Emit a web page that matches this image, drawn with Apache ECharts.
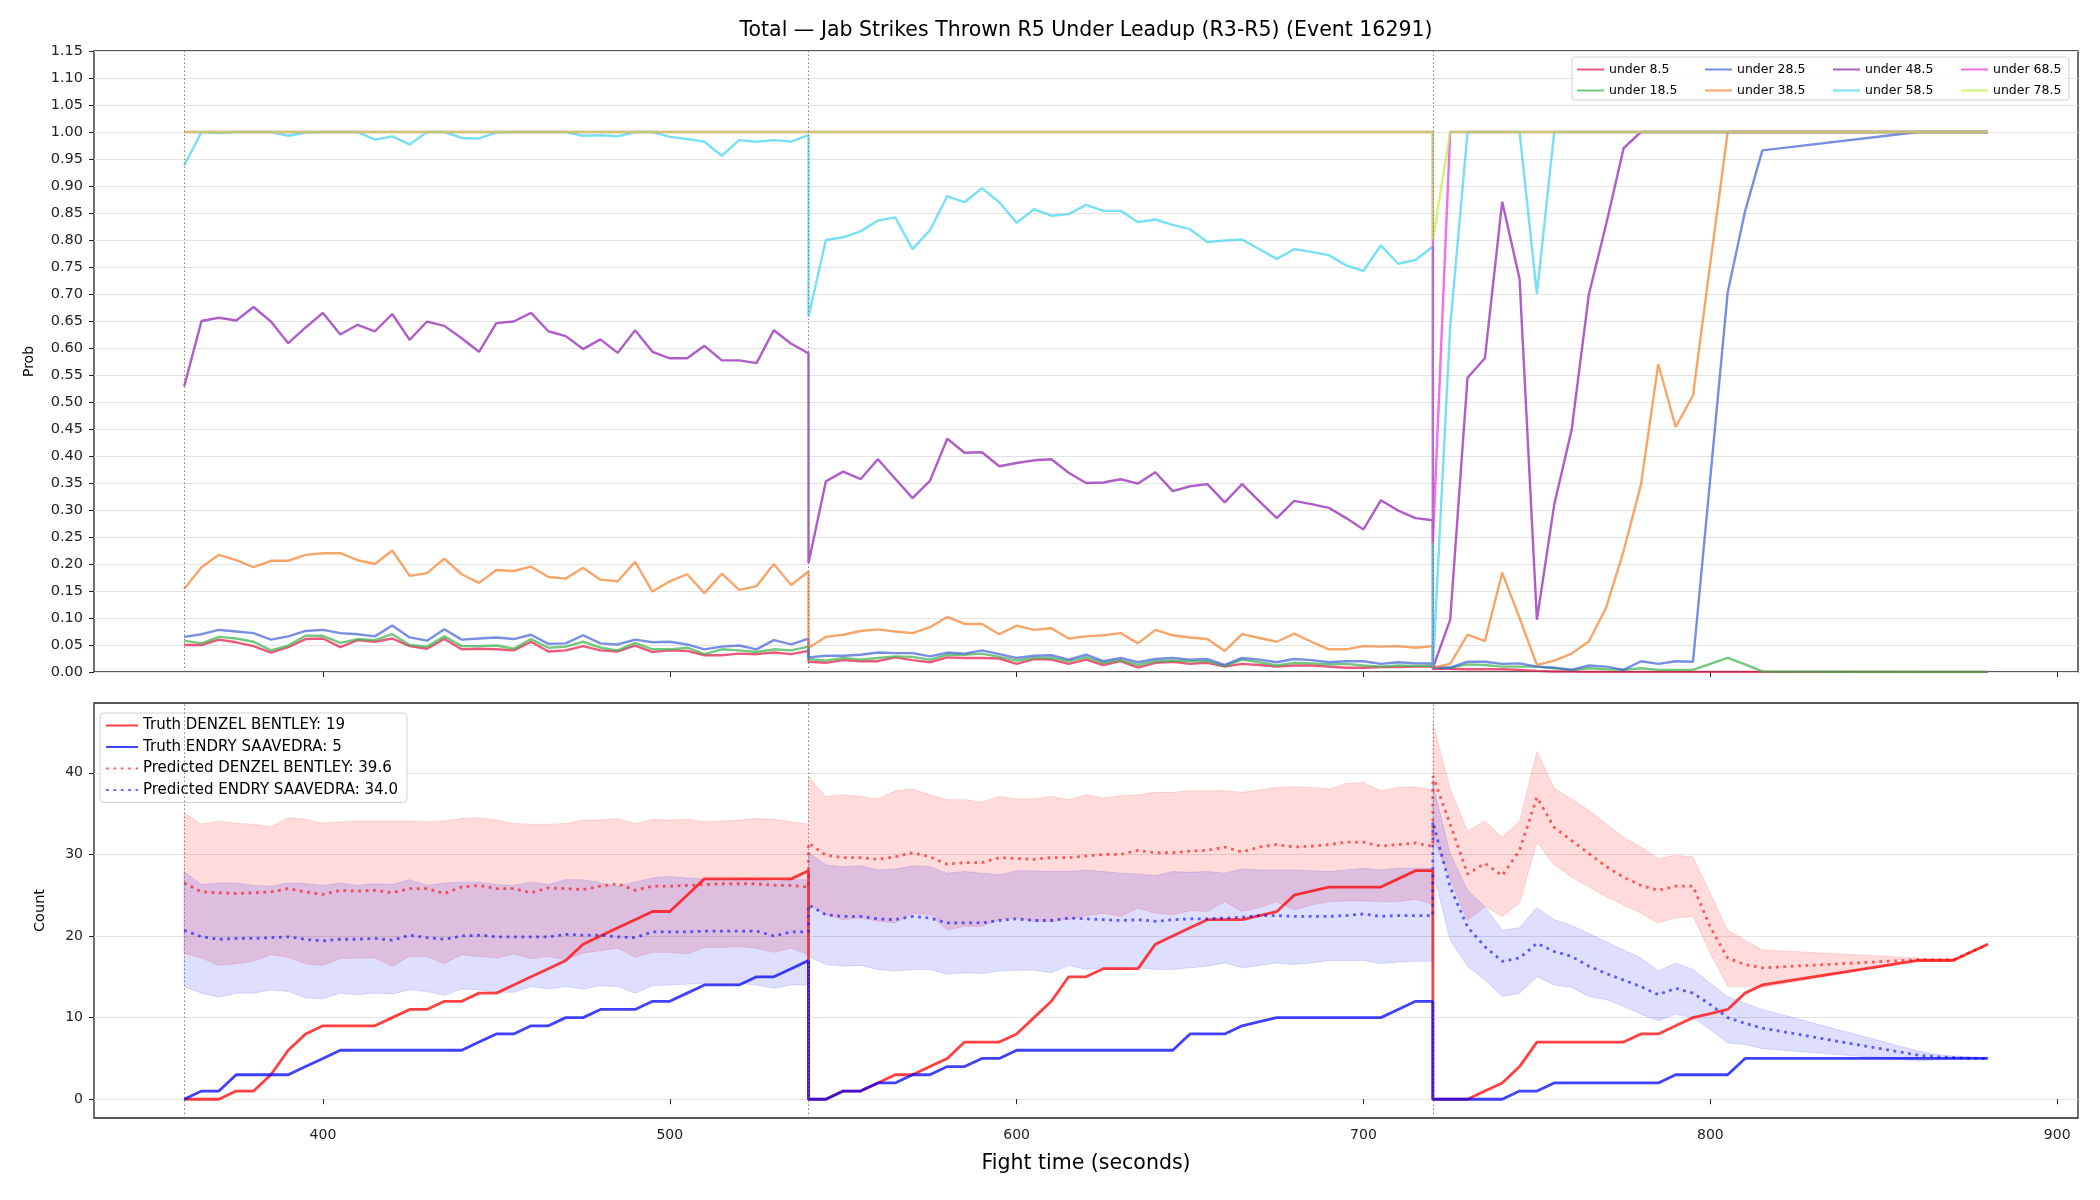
<!DOCTYPE html>
<html>
<head>
<meta charset="utf-8">
<title>Jab Strikes Thrown R5 Under Leadup</title>
<script src="https://cdn.jsdelivr.net/npm/echarts@6/dist/echarts.min.js"></script>
<style>
  html, body { margin: 0; padding: 0; background: #fff; }
  #chart { width: 2100px; height: 1200px; }
</style>
</head>
<body>
<div id="chart"></div>
<script>
// sample times (s): R3, R4, R5 (R5 has a gap 815 -> 860)
const times = [
  360,365,370,375,380,385,390,395,400,405,410,415,420,425,430,435,440,445,450,455,460,465,470,475,480,485,490,495,500,505,510,515,520,525,530,535,540,
  540,545,550,555,560,565,570,575,580,585,590,595,600,605,610,615,620,625,630,635,640,645,650,655,660,665,670,675,680,685,690,695,700,705,710,715,720,
  720,725,730,735,740,745,750,755,760,765,770,775,780,785,790,795,800,805,810,815,860,865,870,875,880
];
const roundStarts = [360, 540, 720];
const roundNames = ['R3', 'R4', 'R5'];
const xTicks = [400, 500, 600, 700, 800, 900];
const countTicks = [0, 10, 20, 30, 40];

// top panel: probability of "under X"
const lineNames = ['under 8.5', 'under 18.5', 'under 28.5', 'under 38.5', 'under 48.5', 'under 58.5', 'under 68.5', 'under 78.5'];
const lineColors = ['#e6194b', '#3cb44b', '#4363d8', '#f58231', '#911eb4', '#42d4f4', '#f032e6', '#bfef45'];

const under8 = [
  .050,.050,.060,.055,.048,.036,.046,.061,.062,.046,.059,.056,.062,.048,.043,.061,.042,.043,.042,.040,.056,.038,.040,.048,.040,.038,.049,.037,.040,.039,.031,.031,.034,.033,.036,.033,.039,
  .019,.017,.022,.020,.020,.027,.022,.018,.027,.026,.026,.025,.015,.024,.023,.015,.023,.013,.020,.008,.017,.019,.015,.017,.010,.015,.013,.010,.012,.012,.010,.008,.008,.009,.009,.010,.010,
  .006,.006,.005,.005,.005,.004,.002,.001,.001,0,0,0,0,0,0,0,0,0,0,0,0,0,0,0,0
];
const under18 = [
  .058,.053,.065,.062,.056,.040,.049,.067,.067,.054,.061,.059,.070,.050,.047,.066,.048,.048,.049,.043,.061,.045,.047,.056,.045,.040,.054,.042,.042,.045,.033,.042,.040,.037,.042,.040,.047,
  .024,.021,.026,.023,.026,.029,.028,.023,.032,.032,.034,.028,.021,.026,.026,.020,.027,.017,.022,.013,.020,.021,.020,.020,.011,.023,.018,.012,.017,.016,.014,.015,.012,.010,.012,.011,.012,
  .008,.008,.014,.013,.010,.010,.010,.007,.004,.007,.005,.004,.007,.004,.004,.004,.015,.026,.014,.001,0,0,0,0,0
];
const under28 = [
  .065,.070,.078,.075,.072,.060,.066,.076,.078,.072,.070,.066,.086,.064,.058,.079,.060,.062,.064,.061,.069,.052,.053,.068,.053,.051,.060,.055,.056,.051,.042,.047,.049,.042,.059,.051,.062,
  .027,.030,.030,.032,.036,.035,.035,.029,.036,.034,.040,.033,.026,.030,.031,.023,.032,.020,.026,.018,.024,.026,.023,.024,.013,.026,.023,.018,.024,.022,.018,.020,.020,.015,.018,.016,.016,
  .008,.008,.019,.019,.015,.016,.010,.008,.004,.012,.010,.004,.020,.015,.020,.019,.360,.703,.853,.966,1,1,1,1,1
];
const under38 = [
  .154,.194,.217,.207,.194,.206,.206,.217,.220,.220,.207,.200,.225,.178,.183,.210,.181,.165,.189,.187,.195,.176,.173,.193,.171,.168,.204,.149,.168,.181,.146,.182,.152,.159,.200,.161,.186,
  .045,.065,.069,.076,.079,.075,.072,.083,.102,.089,.089,.070,.086,.078,.081,.062,.066,.068,.072,.053,.078,.068,.064,.061,.039,.070,.063,.056,.071,.056,.042,.042,.048,.047,.048,.045,.048,
  .008,.015,.069,.057,.184,.100,.013,.021,.034,.057,.120,.224,.347,.570,.454,.512,.757,1,1,1,1,1,1,1,1
];
const under48 = [
  .529,.650,.656,.651,.676,.649,.609,.638,.665,.625,.643,.631,.663,.615,.649,.641,.618,.593,.646,.649,.665,.631,.622,.598,.616,.591,.633,.593,.581,.581,.604,.577,.577,.572,.633,.608,.590,
  .202,.353,.371,.357,.394,.358,.322,.354,.432,.406,.407,.381,.387,.392,.394,.369,.350,.351,.357,.349,.370,.335,.344,.348,.314,.348,.316,.285,.317,.311,.304,.285,.264,.318,.299,.285,.281,
  .007,.097,.545,.581,.871,.728,.097,.310,.448,.700,.830,.970,1,1,1,1,1,1,1,1,1,1,1,1,1
];
const under58 = [
  .938,1,.998,1,1,1,.993,.999,1,1,1,.986,.992,.977,1,1,.989,.988,.999,1,1,1,1,.993,.994,.992,1,1,.991,.987,.982,.956,.985,.982,.985,.982,.994,
  .658,.800,.805,.816,.836,.842,.783,.818,.881,.870,.896,.870,.832,.857,.845,.848,.865,.854,.854,.833,.838,.828,.820,.796,.799,.801,.783,.765,.783,.778,.772,.753,.743,.790,.756,.763,.788,
  .007,.640,1,1,1,1,.700,1,1,1,1,1,1,1,1,1,1,1,1,1,1,1,1,1,1
];
const under68 = [
  1,1,1,1,1,1,1,1,1,1,1,1,1,1,1,1,1,1,1,1,1,1,1,1,1,1,1,1,1,1,1,1,1,1,1,1,1,
  1,1,1,1,1,1,1,1,1,1,1,1,1,1,1,1,1,1,1,1,1,1,1,1,1,1,1,1,1,1,1,1,1,1,1,1,1,
  .240,1,1,1,1,1,1,1,1,1,1,1,1,1,1,1,1,1,1,1,1,1,1,1,1
];
const under78 = [
  1,1,1,1,1,1,1,1,1,1,1,1,1,1,1,1,1,1,1,1,1,1,1,1,1,1,1,1,1,1,1,1,1,1,1,1,1,
  1,1,1,1,1,1,1,1,1,1,1,1,1,1,1,1,1,1,1,1,1,1,1,1,1,1,1,1,1,1,1,1,1,1,1,1,1,
  .800,1,1,1,1,1,1,1,1,1,1,1,1,1,1,1,1,1,1,1,1,1,1,1,1
];

// bottom panel: counts
const truthNames = ['Truth DENZEL BENTLEY: 19', 'Truth ENDRY SAAVEDRA: 5'];
const predNames = ['Predicted DENZEL BENTLEY: 39.6', 'Predicted ENDRY SAAVEDRA: 34.0'];

const truthDenzel = [
  0,0,0,1,1,3,6,8,9,9,9,9,10,11,11,12,12,13,13,14,15,16,17,19,20,21,22,23,23,25,27,27,27,27,27,27,28,
  0,0,1,1,2,3,3,4,5,7,7,7,8,10,12,15,15,16,16,16,19,20,21,22,22,22,22.5,23,25,25.5,26,26,26,26,27,28,28,
  0,0,0,1,2,4,7,7,7,7,7,7,8,8,9,10,10.5,11,13,14,17,17,17,18,19
];
const truthEndry = [
  0,1,1,3,3,3,3,4,5,6,6,6,6,6,6,6,6,7,8,8,9,9,10,10,11,11,11,12,12,13,14,14,14,15,15,16,17,
  0,0,1,1,2,2,3,3,4,4,5,5,6,6,6,6,6,6,6,6,6,6,8,8,8,9,9.5,10,10,10,10,10,10,10,11,12,12,
  0,0,0,0,0,1,1,2,2,2,2,2,2,2,3,3,3,3,5,5,5,5,5,5,5
];
const predDenzel = [
  26.5,25.4,25.3,25.2,25.3,25.4,25.8,25.4,25.1,25.6,25.5,25.6,25.3,25.8,25.8,25.2,26.0,26.2,25.8,25.8,25.3,25.9,25.8,25.7,26.1,26.4,25.6,26.1,26.1,26.2,26.3,26.4,26.4,26.4,26.2,26.2,26.0,
  31.4,29.9,29.6,29.6,29.4,29.7,30.2,29.7,28.8,29.0,29.0,29.6,29.5,29.4,29.6,29.6,29.8,30.0,30.0,30.5,30.2,30.2,30.4,30.5,30.9,30.3,30.9,31.2,30.9,31.0,31.2,31.5,31.5,31.0,31.2,31.4,31.0,
  39.6,33.7,27.6,28.9,27.4,30.5,37.0,33.3,31.7,30.1,28.5,27.2,26.2,25.6,26.1,26.1,21.1,17.3,16.5,16.1,17.1,17.1,17.1,18,19
];
const predEndry = [
  20.7,19.9,19.6,19.7,19.7,19.8,19.9,19.6,19.4,19.6,19.6,19.7,19.5,20.1,19.8,19.6,20.0,20.1,19.9,19.9,19.9,19.9,20.2,20.1,20.1,19.9,19.8,20.5,20.5,20.5,20.6,20.6,20.6,20.6,20.0,20.5,20.5,
  23.8,22.6,22.4,22.4,22.1,22.0,22.4,22.2,21.6,21.6,21.6,21.9,22.1,21.9,21.9,22.2,22.1,22.0,21.9,22.0,21.8,22.0,22.1,22.1,22.2,22.3,22.5,22.5,22.4,22.4,22.4,22.5,22.7,22.4,22.5,22.5,22.5,
  34.0,26.0,21.1,18.7,16.9,17.3,19.1,18.1,17.5,16.3,15.4,14.6,13.8,12.8,13.6,13.0,11.6,10.0,9.3,8.7,5.4,5.2,5.1,5.0,5.0
];
const denzelHigh = [
  35.1,33.7,34.1,33.8,33.7,33.4,34.5,34.3,33.8,34.0,34.1,34.1,34.1,34.1,34.0,34.1,34.4,34.5,34.2,33.8,33.7,33.7,33.8,34.2,34.2,34.4,33.8,34.3,34.2,34.3,34.0,34.1,34.2,34.4,34.3,34.0,33.7,
  39.5,37.1,37.3,37.1,36.8,37.8,38.0,37.3,36.7,36.7,36.4,37.1,36.8,36.8,37.1,36.7,37.3,36.9,37.2,37.3,37.6,37.6,37.8,37.8,37.8,37.6,37.9,38.2,38.3,38.2,38.0,38.7,38.8,37.8,38.2,38.3,37.9,
  46.2,38.0,32.9,34.1,32.1,34.1,42.6,38.1,36.8,35.4,33.8,32.1,30.9,29.5,29.9,29.7,25.2,20.7,19.5,18.3,17.3,17.2,17.2,18,19
];
const denzelLow = [
  17.9,17.3,16.4,16.6,16.9,17.7,17.4,16.6,16.4,17.2,17.3,17.3,16.3,17.5,17.5,16.6,17.7,17.5,17.3,17.8,17.2,17.5,17.1,17.9,18.2,18.5,17.4,18.0,18.0,17.8,18.6,18.6,18.7,18.5,18.0,18.5,17.7,
  23.9,22.6,22.0,22.2,21.8,21.6,22.8,22.6,20.7,21.2,21.2,22.0,22.2,21.8,21.8,22.0,22.5,22.8,22.4,23.4,22.8,22.6,23.1,23.0,24.2,23.0,23.5,24.2,23.2,23.8,24.2,24.3,24.3,24.2,24.2,24.5,23.9,
  32.0,27.0,21.9,23.6,22.4,24.0,31.5,28.7,27.2,26.0,24.8,23.8,22.8,21.6,22.2,22.4,17.9,13.8,13.8,13.7,17.0,17.0,17.0,18,19
];
const endryHigh = [
  27.9,26.3,26.5,26.5,26.2,26.1,26.5,26.4,26.2,26.5,26.2,26.4,26.3,26.9,26.2,26.5,26.6,26.6,26.3,26.2,26.6,26.3,26.9,26.9,26.5,26.1,26.6,27.1,27.3,27.1,27.0,26.9,27.0,27.0,26.6,26.9,26.9,
  30.3,28.7,28.5,28.6,28.1,28.2,28.6,28.5,27.7,27.9,27.7,27.5,28.0,28.0,27.9,27.9,28.1,27.9,27.7,27.6,27.4,27.9,27.8,27.9,27.7,28.2,28.1,28.1,28.1,28.0,27.9,28.1,28.3,28.1,28.3,28.3,28.3,
  38.6,30.1,25.6,23.6,20.7,21.0,23.5,22.0,21.3,20.3,19.3,18.3,17.3,15.7,16.7,15.9,14.2,12.6,11.8,11.0,5.9,5.5,5.3,5.2,5.1
];
const endryLow = [
  13.8,13.0,12.5,13.0,13.0,13.4,13.2,12.4,12.3,13.0,12.8,13.0,12.9,13.4,13.2,12.7,13.5,13.4,13.1,13.1,13.8,13.5,13.8,13.5,13.9,13.8,13.0,13.9,14.0,14.1,14.2,14.1,14.2,14.0,13.6,14.0,14.0,
  17.5,16.5,16.3,16.4,15.9,15.7,15.9,15.9,15.3,15.5,15.4,15.7,15.8,15.8,15.5,16.4,15.9,16.1,15.8,16.1,15.9,15.9,16.1,16.3,16.7,16.1,16.4,16.7,16.5,16.7,17.0,17.0,17.0,16.6,16.8,16.9,16.9,
  28.0,19.5,16.3,14.6,12.6,13.0,15.0,14.0,13.7,12.6,12.2,11.4,10.4,9.6,10.4,10.0,8.5,6.9,6.7,6.2,4.7,4.8,4.9,5.0,5.0
];

(function(){
  const FONT = 'DejaVu Sans';
  const X_MIN = 334, X_MAX = 906;
  const P_MAX = 1.15, C_MIN = -2.3, C_MAX = 48.55;

  const chart = echarts.init(document.getElementById('chart'), null, { renderer: 'canvas' });

  function pairs(ys) { return times.map((t, i) => [t, ys[i]]); }

  const roundLine = {
    silent: true,
    symbol: ['none', 'none'],
    label: { show: false },
    lineStyle: { color: '#777', type: [1.5, 2.5], width: 1, opacity: 0.9 },
    data: roundStarts.map(t => ({ xAxis: t }))
  };

  // top: probability lines
  const probVals = [under8, under18, under28, under38, under48, under58, under68, under78];
  const series = probVals.map((vals, i) => ({
    name: lineNames[i],
    type: 'line',
    xAxisIndex: 0, yAxisIndex: 0,
    data: pairs(vals),
    symbol: 'none',
    lineStyle: { color: lineColors[i], width: 2.4, opacity: 0.72 },
    itemStyle: { color: lineColors[i], opacity: 0.72 },
    markLine: i === 0 ? roundLine : undefined,
    z: 2
  }));

  // bottom: shaded bands drawn as one polygon each
  function bandSeries(lo, hi, fill, stroke) {
    return {
      type: 'custom', xAxisIndex: 1, yAxisIndex: 1, silent: true, z: 1,
      data: [[times[0], lo[0]]],
      encode: { x: 0, y: 1 },
      renderItem: function (params, api) {
        const upper = times.map((t, i) => api.coord([t, hi[i]]));
        const lower = times.map((t, i) => api.coord([t, lo[i]])).reverse();
        return {
          type: 'polygon',
          shape: { points: upper.concat(lower) },
          style: { fill: fill, stroke: stroke, lineWidth: 1 }
        };
      }
    };
  }
  series.push(bandSeries(denzelLow, denzelHigh, 'rgba(255,0,0,0.14)', 'rgba(255,0,0,0.12)'));
  series.push(bandSeries(endryLow, endryHigh, 'rgba(0,0,255,0.13)', 'rgba(0,0,255,0.12)'));

  // truth lines
  [[truthDenzel, '#ff0000'], [truthEndry, '#0000ff']].forEach(([vals, c], i) => {
    series.push({
      name: truthNames[i], type: 'line', xAxisIndex: 1, yAxisIndex: 1,
      data: pairs(vals), symbol: 'none',
      lineStyle: { color: c, width: 2.8, opacity: 0.75 },
      itemStyle: { color: c, opacity: 0.75 },
      markLine: i === 0 ? roundLine : undefined,
      z: 3
    });
  });
  // predicted lines
  [[predDenzel, '#ff0000'], [predEndry, '#0000ff']].forEach(([vals, c], i) => {
    series.push({
      name: predNames[i], type: 'line', xAxisIndex: 1, yAxisIndex: 1,
      data: pairs(vals), symbol: 'none',
      lineStyle: { color: c, width: 2.8, opacity: 0.6, type: [2.8, 4.6] },
      itemStyle: { color: c, opacity: 0.6 }, z: 3
    });
  });

  // round labels
  const roundLabel = {
    show: true, position: 'right', distance: 6, formatter: '{b}',
    color: '#666', fontSize: 16, fontFamily: FONT
  };
  series.push({
    type: 'scatter', xAxisIndex: 0, yAxisIndex: 0, silent: true,
    symbolSize: 1, itemStyle: { opacity: 0 }, label: roundLabel, z: 4,
    data: roundStarts.map((t, i) => ({ name: roundNames[i], value: [t, P_MAX * 0.955] }))
  });
  series.push({
    type: 'scatter', xAxisIndex: 1, yAxisIndex: 1, silent: true,
    symbolSize: 1, itemStyle: { opacity: 0 }, label: roundLabel, z: 4,
    data: roundStarts.slice(1).map((t, i) => ({ name: roundNames[i + 1], value: [t, C_MIN + 0.952 * (C_MAX - C_MIN)] }))
  });

  // top legend: 4 columns x 2 rows
  const topLegends = [0, 1, 2, 3].map(col => ({
    orient: 'vertical',
    left: 1576 + col * 128, top: 63,
    padding: 0,
    itemWidth: 27, itemHeight: 12, itemGap: 8, itemTextGap: 9,
    itemStyle: { opacity: 0 },
    textStyle: { fontSize: 12.5, fontFamily: FONT, color: '#000' },
    data: [lineNames[col * 2], lineNames[col * 2 + 1]],
    selectedMode: false
  }));

  const option = {
    animation: false,
    backgroundColor: '#fff',
    graphic: [
      {
        type: 'text', x: 1086, y: 31, silent: true,
        style: {
          text: 'Total \u2014 Jab Strikes Thrown R5 Under Leadup (R3-R5) (Event 16291)',
          fontSize: 20.5, fontFamily: FONT, fill: '#000', align: 'center', verticalAlign: 'middle'
        }
      },
      {
        type: 'rect', z: 1, silent: true,
        shape: { x: 1572, y: 57, width: 497, height: 43, r: 3 },
        style: { fill: 'rgba(255,255,255,0.8)', stroke: '#d0d0d0', lineWidth: 1 }
      }
    ],
    legend: topLegends.concat([{
      orient: 'vertical', left: 100, top: 713,
      padding: [5, 9, 5, 5], itemGap: 6.5,
      itemWidth: 32, itemHeight: 16, itemTextGap: 10,
      itemStyle: { opacity: 0 },
      backgroundColor: 'rgba(255,255,255,0.8)', borderColor: '#d0d0d0', borderWidth: 1, borderRadius: 4,
      textStyle: { fontSize: 15, fontFamily: FONT, color: '#000' },
      data: truthNames.concat(predNames),
      selectedMode: false
    }]),
    grid: [
      { left: 94, right: 22, top: 51, height: 621, show: true, borderColor: '#222', borderWidth: 1.3, backgroundColor: 'transparent' },
      { left: 94, right: 22, top: 703, height: 415, show: true, borderColor: '#222', borderWidth: 1.3, backgroundColor: 'transparent' }
    ],
    xAxis: [
      {
        gridIndex: 0, type: 'value', min: X_MIN, max: X_MAX,
        axisLine: { show: false },
        axisTick: { show: true, length: 5, lineStyle: { color: '#222' }, customValues: xTicks },
        axisLabel: { show: false },
        splitLine: { show: false }
      },
      {
        gridIndex: 1, type: 'value', min: X_MIN, max: X_MAX,
        name: 'Fight time (seconds)', nameLocation: 'middle', nameGap: 35,
        nameTextStyle: { fontSize: 20.5, fontFamily: FONT, color: '#000' },
        axisLine: { show: false },
        axisTick: { show: true, length: 5, lineStyle: { color: '#222' }, customValues: xTicks },
        axisLabel: { fontSize: 14, fontFamily: FONT, color: '#222', margin: 10, customValues: xTicks },
        splitLine: { show: false }
      }
    ],
    yAxis: [
      {
        gridIndex: 0, type: 'value', min: 0, max: P_MAX, interval: 0.05,
        name: 'Prob', nameLocation: 'middle', nameGap: 58, nameRotate: 90,
        nameTextStyle: { fontSize: 14, fontFamily: FONT, color: '#000' },
        axisLine: { show: false },
        axisTick: { show: true, length: 5, lineStyle: { color: '#222' } },
        axisLabel: { fontSize: 14.5, fontFamily: FONT, color: '#222', margin: 11, formatter: v => v.toFixed(2) },
        splitLine: { show: true, lineStyle: { color: '#e3e3e3', width: 1 } }
      },
      {
        gridIndex: 1, type: 'value', min: C_MIN, max: C_MAX, splitNumber: 10,
        name: 'Count', nameLocation: 'middle', nameGap: 46, nameRotate: 90,
        nameTextStyle: { fontSize: 14.5, fontFamily: FONT, color: '#000' },
        axisLine: { show: false },
        axisTick: { show: true, length: 5, lineStyle: { color: '#222' }, customValues: countTicks },
        axisLabel: { fontSize: 14, fontFamily: FONT, color: '#222', margin: 11, customValues: countTicks },
        splitLine: { show: true, lineStyle: { color: '#e3e3e3', width: 1 } }
      }
    ],
    series: series
  };

  chart.setOption(option);
})();
</script>
</body>
</html>
